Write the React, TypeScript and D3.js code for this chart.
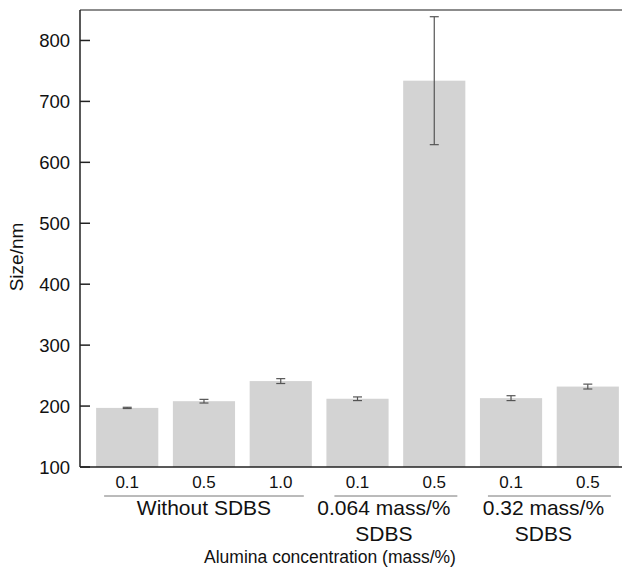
import React from "react";
import * as d3 from "d3";

// values
const tickLabels = ["0.1", "0.5", "1.0", "0.1", "0.5", "0.1", "0.5"];
const sizes = [197, 208, 241, 212, 734, 213, 232];
const errors = [1, 3, 4, 3, 105, 4, 4];
const groupNames = [["Without SDBS"], ["0.064 mass/%", "SDBS"], ["0.32 mass/%", "SDBS"]];
const groupOf = [0, 0, 0, 1, 1, 2, 2];
const yTicks = [100, 200, 300, 400, 500, 600, 700, 800];

const width = 622;
const height = 571;
const left = 80;
const top = 10;
const bottom = 467;
const font = "'Liberation Sans', Arial, Helvetica, sans-serif";

const App = () => {
  const idx = sizes.map((_, i) => i);
  const x = d3.scaleBand<number>().domain(idx).range([left, 635]).paddingInner(0.19).paddingOuter(0.21);
  const y = d3.scaleLinear().domain([100, 850]).range([bottom, top]);
  const bw = x.bandwidth();

  // group extents from the bars they hold
  const groups = groupNames.map((names, g) => {
    const members = idx.filter((i) => groupOf[i] === g);
    const x0 = d3.min(members, (i) => x(i)!)!;
    const x1 = d3.max(members, (i) => x(i)! + bw)!;
    return { names, x0, x1 };
  });
  const labelShift = [0, -12, -6];

  return (
    <svg width={width} height={height} style={{ position: "absolute", left: 0, top: 0, background: "#fff" }}>
      {/* bars */}
      {idx.map((i) => (
        <rect key={"b" + i} x={x(i)} y={y(sizes[i])} width={bw} height={y(100) - y(sizes[i])} fill="#d3d3d3" />
      ))}
      {/* error bars */}
      {idx.map((i) => {
        const cx = x(i)! + bw / 2;
        const hi = y(sizes[i] + errors[i]);
        const lo = y(sizes[i] - errors[i]);
        return (
          <g key={"e" + i} stroke="#555" strokeWidth={1.2}>
            <line x1={cx} x2={cx} y1={hi} y2={lo} />
            <line x1={cx - 4.5} x2={cx + 4.5} y1={hi} y2={hi} />
            <line x1={cx - 4.5} x2={cx + 4.5} y1={lo} y2={lo} />
          </g>
        );
      })}
      {/* frame */}
      <line x1={left} x2={width} y1={top} y2={top} stroke="#666" strokeWidth={1.5} />
      <line x1={left} x2={left} y1={top} y2={bottom} stroke="#222" strokeWidth={1.5} />
      <line x1={left} x2={width} y1={bottom} y2={bottom} stroke="#222" strokeWidth={1.5} />
      {/* y ticks */}
      {yTicks.map((t) => (
        <g key={"t" + t}>
          <line x1={left} x2={left + 10} y1={y(t)} y2={y(t)} stroke="#222" strokeWidth={1.5} />
          <text x={70} y={y(t)} dy="0.36em" textAnchor="end" fontFamily={font} fontSize={18.5} fill="#111">
            {t}
          </text>
        </g>
      ))}
      <text
        transform={`translate(23,${257}) rotate(-90)`}
        textAnchor="middle"
        fontFamily={font}
        fontSize={19}
        fill="#111"
      >
        Size/nm
      </text>
      {/* x tick labels */}
      {idx.map((i) => (
        <text key={"x" + i} x={x(i)! + bw / 2} y={488} textAnchor="middle" fontFamily={font} fontSize={17} fill="#111">
          {tickLabels[i]}
        </text>
      ))}
      {/* group separators and labels */}
      {groups.map((g, k) => (
        <g key={"g" + k}>
          <line x1={g.x0 + 8} x2={g.x1 - 8} y1={496} y2={496} stroke="#777" strokeWidth={1} />
          {g.names.map((n, j) => (
            <text
              key={j}
              x={(g.x0 + g.x1) / 2 + labelShift[k]}
              y={515 + j * 26}
              textAnchor="middle"
              fontFamily={font}
              fontSize={21}
              fill="#111"
            >
              {n}
            </text>
          ))}
        </g>
      ))}
      <text x={330} y={563} textAnchor="middle" fontFamily={font} fontSize={17.5} fill="#111">
        Alumina concentration (mass/%)
      </text>
    </svg>
  );
};

export default App;
